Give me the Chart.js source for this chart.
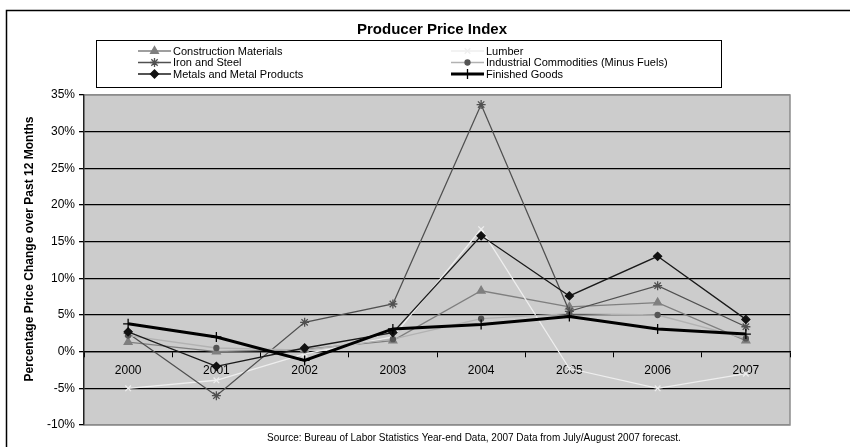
<!DOCTYPE html>
<html>
<head>
<meta charset="utf-8">
<script src="https://cdn.jsdelivr.net/npm/chart.js@4.4.1/dist/chart.umd.min.js"></script>
<style>
  html, body { margin: 0; padding: 0; background: #fff; }
  #wrap { width: 850px; height: 447px; position: relative; }
</style>
</head>
<body>
<div id="wrap"><canvas id="ppiChart" width="850" height="447"></canvas></div>
<script>
const years = ["2000", "2001", "2002", "2003", "2004", "2005", "2006", "2007"];

const constructionMaterials = [1.3, 0, 0.3, 1.5, 8.3, 6.1, 6.7, 1.5];
const lumber = [-5, -3.9, -0.3, 2, 16.7, -2.3, -5, -3];
const ironAndSteel = [2.5, -6, 4, 6.5, 33.7, 5.5, 9, 3.4];
const industrialCommodities = [2.2, 0.5, 0.2, 1.7, 4.5, 5.2, 5, 1.8];
const metalsProducts = [2.7, -2, 0.5, 2.6, 15.8, 7.6, 13, 4.4];
const finishedGoods = [3.8, 2, -1.2, 3.1, 3.7, 4.8, 3.1, 2.4];

const yTicks = [-10, -5, 0, 5, 10, 15, 20, 25, 30, 35];

const FONT = "'Liberation Sans', Arial, sans-serif";

function series(label, data, color, width, style, radius, fill, order) {
  return {
    label,
    data,
    borderColor: color,
    borderWidth: width,
    pointStyle: style,
    pointRadius: radius,
    pointBackgroundColor: fill,
    pointBorderColor: fill,
    pointBorderWidth: 1.3,
    pointHoverRadius: radius,
    tension: 0,
    fill: false,
    order
  };
}

const datasets = [
  series("Construction Materials", constructionMaterials, "#7f7f7f", 1.3, "triangle", 4.5, "#7f7f7f", 5),
  series("Lumber", lumber, "#eeeeee", 1.3, "crossRot", 4, "#eeeeee", 4),
  series("Iron and Steel", ironAndSteel, "#505050", 1.3, "star", 4.5, "#505050", 3),
  series("Industrial Commodities (Minus Fuels)", industrialCommodities, "#b2b2b2", 1.3, "circle", 2.5, "#555555", 2),
  series("Metals and Metal Products", metalsProducts, "#1a1a1a", 1.3, "rectRot", 4, "#111111", 1),
  series("Finished Goods", finishedGoods, "#000000", 3, "cross", 5, "#000000", 0)
];

// grey plot background, outer frame, title, axis title, legend and source note
const decorations = {
  id: "decorations",
  beforeDraw(chart) {
    const { ctx, chartArea: a } = chart;
    ctx.save();
    ctx.fillStyle = "#fff";
    ctx.fillRect(0, 0, chart.width, chart.height);
    ctx.strokeStyle = "#000";
    ctx.lineWidth = 1.5;
    ctx.strokeRect(6.5, 10.5, 900, 500);
    ctx.fillStyle = "#cccccc";
    ctx.fillRect(a.left, a.top, a.right - a.left, a.bottom - a.top);
    ctx.strokeStyle = "#8c8c8c";
    ctx.lineWidth = 1.5;
    ctx.strokeRect(a.left, a.top, a.right - a.left, a.bottom - a.top);
    ctx.restore();
  },
  afterDraw(chart) {
    const { ctx } = chart;
    ctx.save();
    ctx.fillStyle = "#000";
    ctx.textAlign = "center";
    ctx.textBaseline = "middle";
    ctx.font = "bold 15px " + FONT;
    ctx.fillText("Producer Price Index", 432, 30);

    ctx.save();
    ctx.translate(30, 249);
    ctx.rotate(-Math.PI / 2);
    ctx.font = "bold 12px " + FONT;
    ctx.fillText("Percentage Price Change over Past 12 Months", 0, 0);
    ctx.restore();

    ctx.font = "10px " + FONT;
    ctx.fillText("Source: Bureau of Labor Statistics Year-end Data, 2007 Data from July/August 2007 forecast.", 474, 438);

    // legend box
    ctx.fillStyle = "#fff";
    ctx.fillRect(96, 40, 625, 47);
    ctx.strokeStyle = "#000";
    ctx.lineWidth = 1;
    ctx.strokeRect(96.5, 40.5, 625, 47);

    const cols = [{ x0: 138, x1: 171 }, { x0: 451, x1: 484 }];
    const rows = [51, 62.5, 74];
    chart.data.datasets.forEach((ds, i) => {
      const c = cols[i % 2];
      const y = rows[Math.floor(i / 2)];
      ctx.strokeStyle = ds.borderColor;
      ctx.lineWidth = ds.borderWidth;
      ctx.beginPath();
      ctx.moveTo(c.x0, y);
      ctx.lineTo(c.x1, y);
      ctx.stroke();
      ctx.fillStyle = ds.pointBackgroundColor;
      ctx.strokeStyle = ds.pointBorderColor;
      ctx.lineWidth = ds.pointBorderWidth;
      Chart.helpers.drawPoint(ctx, {
        pointStyle: ds.pointStyle,
        radius: ds.pointRadius,
        rotation: 0,
        borderWidth: ds.pointBorderWidth
      }, (c.x0 + c.x1) / 2, y);
      ctx.fillStyle = "#000";
      ctx.textAlign = "left";
      ctx.font = "11px " + FONT;
      ctx.fillText(ds.label, c.x1 + 2, y + 0.5);
    });
    ctx.restore();
  }
};

new Chart(document.getElementById("ppiChart"), {
  type: "line",
  data: { labels: years, datasets },
  options: {
    responsive: false,
    animation: false,
    layout: { padding: { left: 0, top: 95, right: 60, bottom: 22 } },
    plugins: {
      legend: { display: false },
      title: { display: false },
      tooltip: { enabled: false }
    },
    scales: {
      x: {
        position: { y: 0 },
        offset: true,
        grid: {
          offset: true,
          drawOnChartArea: false,
          drawTicks: true,
          tickLength: 5,
          color: "#000",
          tickWidth: 1
        },
        border: { color: "#000", width: 1.3 },
        ticks: {
          color: "#000",
          padding: 7,
          font: { family: FONT, size: 12 }
        }
      },
      y: {
        min: yTicks[0],
        max: yTicks[yTicks.length - 1],
        afterBuildTicks(scale) {
          scale.ticks = yTicks.map(v => ({ value: v }));
        },
        afterFit(scale) {
          scale.width = 84;
        },
        grid: {
          color: ctx => (ctx.tick && (ctx.tick.value === 35 || ctx.tick.value === -10)) ? "#8c8c8c" : "#000",
          lineWidth: 1.3,
          drawTicks: true,
          tickLength: 5,
          tickColor: "#000"
        },
        border: { color: "#222", width: 1.3 },
        ticks: {
          color: "#000",
          padding: 4,
          font: { family: FONT, size: 12 },
          callback: v => v + "%"
        }
      }
    }
  },
  plugins: [decorations]
});
</script>
</body>
</html>
